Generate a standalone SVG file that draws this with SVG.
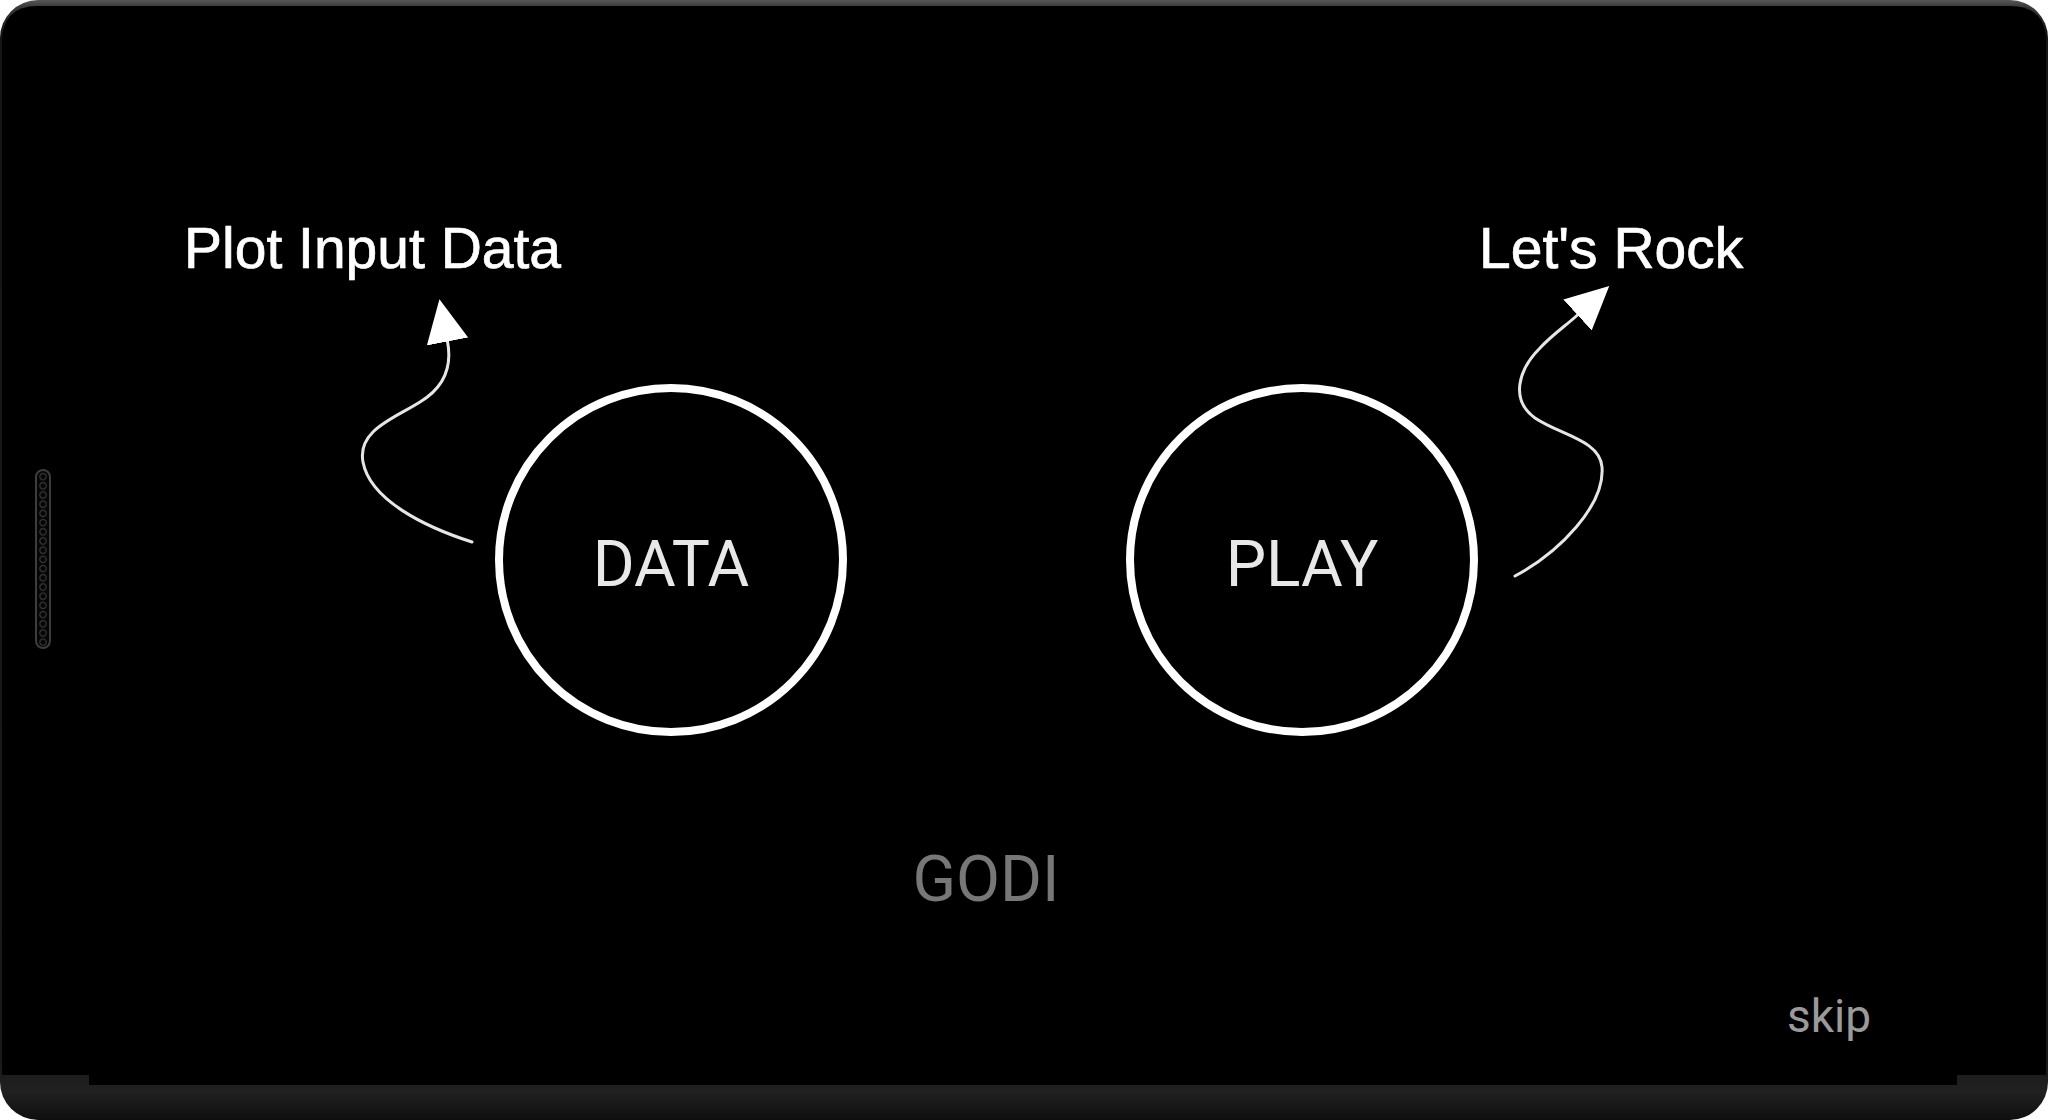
<svg xmlns="http://www.w3.org/2000/svg" width="2048" height="1120" viewBox="0 0 2048 1120">
  <defs>
    <style>
      .ring { fill: none; stroke: #ffffff; stroke-width: 8; }
      .node-text { font-family: Roboto, "Liberation Sans", sans-serif; font-size: 64px; fill: #e8e8e8; text-anchor: middle; }
      .label { font-family: "Liberation Sans", Arial, sans-serif; font-size: 57px; fill: #ffffff; stroke: #ffffff; stroke-width: 0.7; }
      .wire { fill: none; stroke: #e6e6e6; stroke-width: 3; stroke-linecap: round; }
      .godi { font-family: Roboto, "Liberation Sans", sans-serif; font-size: 64px; fill: #777777; text-anchor: middle; }
      .skip { font-family: Roboto, "Liberation Sans", sans-serif; font-size: 46px; fill: #9a9a9a; }
    </style>
    <marker id="head" viewBox="0 -22 44 44" refX="0" refY="0" markerWidth="44" markerHeight="44" markerUnits="userSpaceOnUse" orient="auto">
      <path d="M0,-21 L43,0 L0,21 Z" fill="#ffffff"/>
    </marker>
    <linearGradient id="frameG" x1="0" y1="0" x2="0" y2="1120" gradientUnits="userSpaceOnUse">
      <stop offset="0" stop-color="#575757"/>
      <stop offset="0.006" stop-color="#3a3a3a"/>
      <stop offset="0.03" stop-color="#151515"/>
      <stop offset="0.95" stop-color="#1a1a1a"/>
      <stop offset="0.975" stop-color="#212121"/>
      <stop offset="1" stop-color="#0e0e0e"/>
    </linearGradient>
    <pattern id="holes" patternUnits="userSpaceOnUse" x="36" y="472" width="14" height="9.2">
      <circle cx="7" cy="4.6" r="3.2" fill="none" stroke="#333333" stroke-width="1.3"/>
    </pattern>
  </defs>

  <rect x="0" y="0" width="2048" height="1120" fill="#ffffff"/>

  <g id="frame">
    <rect x="0" y="0" width="2048" height="1120" rx="38" ry="38" fill="url(#frameG)"/>
    <path d="M2 1075 V42 Q2 6 38 6 H2010 Q2046 6 2046 42 V1075 Z" fill="#000000"/>
    <rect x="89" y="1070" width="1868" height="15" fill="#000000"/>
    <rect x="36" y="470" width="14" height="178" rx="7" ry="7" fill="#050505" stroke="#3d3d3d" stroke-width="2"/>
    <rect x="37" y="472" width="12" height="174" rx="6" ry="6" fill="url(#holes)"/>
  </g>

  <g id="connectors">
    <path class="wire" marker-end="url(#head)" d="M472 542 C425 527, 370 500, 363 462 C357 430, 395 418, 420 402 C445 387, 452 365, 447.5 341.5"/>
    <path class="wire" marker-end="url(#head)" d="M1515 576 C1560 552, 1605 505, 1602 467 C1600 440, 1560 435, 1535 418 C1510 400, 1518 370, 1540 348 C1552 335, 1566 325.5, 1577.5 315"/>
  </g>

  <g id="node-data">
    <circle class="ring" cx="671" cy="560" r="172"/>
    <text class="node-text" x="671" y="586">DATA</text>
  </g>

  <g id="node-play">
    <circle class="ring" cx="1302" cy="560" r="172"/>
    <text class="node-text" x="1302" y="586">PLAY</text>
  </g>

  <g id="label-plot">
    <text class="label" x="184" y="268">Plot Input Data</text>
  </g>

  <g id="label-rock">
    <text class="label" x="1479" y="268">Let's Rock</text>
  </g>

  <g id="title">
    <text class="godi" x="986" y="901">GODI</text>
  </g>

  <g id="skip">
    <text class="skip" x="1787" y="1032">skip</text>
  </g>
</svg>
